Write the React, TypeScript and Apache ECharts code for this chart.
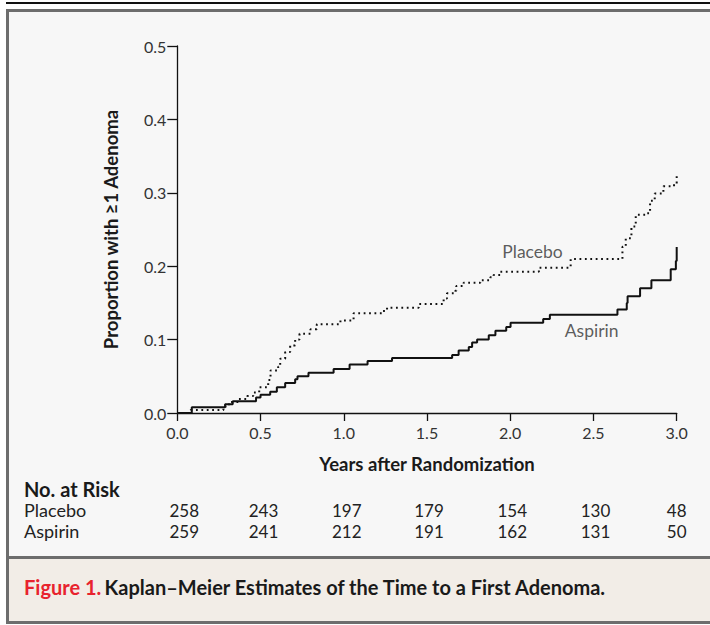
import React, { useEffect, useRef } from "react";
import * as echarts from "echarts";

const xTicks = [0, 0.5, 1.0, 1.5, 2.0, 2.5, 3.0];
const yTicks = [0, 0.1, 0.2, 0.3, 0.4, 0.5];

const aspirin: [number, number][] = [
  [0, 0], [0.087, 0.008], [0.287, 0.012], [0.333, 0.016], [0.473, 0.021], [0.5, 0.025],
  [0.558, 0.029], [0.598, 0.035], [0.648, 0.041], [0.708, 0.046], [0.722, 0.05],
  [0.788, 0.055], [0.939, 0.06], [1.035, 0.066], [1.143, 0.071], [1.29, 0.075],
  [1.651, 0.079], [1.69, 0.085], [1.751, 0.09], [1.771, 0.096], [1.801, 0.1],
  [1.871, 0.106], [1.911, 0.112], [1.976, 0.117], [2.002, 0.123], [2.198, 0.128],
  [2.238, 0.134], [2.644, 0.141], [2.7, 0.15], [2.705, 0.159], [2.78, 0.17],
  [2.848, 0.181], [2.964, 0.196], [2.995, 0.207], [3.0, 0.226],
];

const placebo: [number, number][] = [
  [0, 0], [0.08, 0.004], [0.277, 0.009], [0.31, 0.015], [0.37, 0.019], [0.42, 0.023],
  [0.456, 0.028], [0.492, 0.035], [0.546, 0.045], [0.56, 0.058], [0.606, 0.063],
  [0.618, 0.074], [0.648, 0.083], [0.678, 0.092], [0.708, 0.1], [0.734, 0.108],
  [0.8, 0.114], [0.838, 0.121], [0.98, 0.126], [1.059, 0.136], [1.236, 0.139],
  [1.26, 0.1435], [1.45, 0.1485], [1.6, 0.156], [1.62, 0.163], [1.67, 0.1666],
  [1.676, 0.173], [1.72, 0.1775], [1.82, 0.181], [1.88, 0.185], [1.9, 0.188],
  [1.94, 0.1925], [2.172, 0.198], [2.363, 0.2098], [2.674, 0.2266], [2.694, 0.238],
  [2.728, 0.254], [2.754, 0.27], [2.814, 0.272], [2.84, 0.289], [2.868, 0.299],
  [2.92, 0.309], [2.984, 0.312], [3.0, 0.323],
];

const riskTimes = [0, 0.5, 1.0, 1.5, 2.0, 2.5, 3.0];
const riskPlacebo = [258, 243, 197, 179, 154, 130, 48];
const riskAspirin = [259, 241, 212, 191, 162, 131, 50];

const seriesLabels = [
  { name: "Placebo", x: 2.134, y: 0.2207 },
  { name: "Aspirin", x: 2.489, y: 0.113 },
];

const FONT = "Lato, 'Noto Sans', sans-serif";

export default function App() {
  const ref = useRef<HTMLDivElement>(null);
  useEffect(() => {
    if (!ref.current) return;
    const chart = echarts.init(ref.current, null, { renderer: "svg" });
    const W = 710;
    const gridLeft = 177.3;
    const gridRight = 33.3;
    const gridTop = 46;
    const gridBottom = 625 - 413;
    const plotW = W - gridLeft - gridRight;
    const xPix = (t: number) => gridLeft + (t / 3) * plotW;
    const colOffset = [7, 3, 3, 2, 2, 2, 0];

    const graphics: any[] = [
      { type: "rect", z: -10, shape: { x: 6, y: 2, width: 704, height: 2 }, style: { fill: "#111" } },
      { type: "rect", z: -10, shape: { x: 6, y: 9, width: 704, height: 615 }, style: { fill: "#6d6d6d" } },
      { type: "rect", z: -9, shape: { x: 9, y: 12, width: 701, height: 544 }, style: { fill: "#f7f7f7" } },
      { type: "rect", z: -9, shape: { x: 9, y: 559, width: 701, height: 62 }, style: { fill: "#f2ede7" } },
      { type: "text", x: 24, y: 489, style: { text: "No. at Risk", font: `bold 20px ${FONT}`, fill: "#1a1a1a", verticalAlign: "middle" } },
      { type: "text", x: 24, y: 510, style: { text: "Placebo", font: `18px ${FONT}`, fill: "#222", verticalAlign: "middle" } },
      { type: "text", x: 24, y: 531, style: { text: "Aspirin", font: `18px ${FONT}`, fill: "#222", verticalAlign: "middle" } },
      {
        type: "text", x: 24, y: 587,
        style: {
          text: "{r|Figure 1.} {b|Kaplan\u2013Meier Estimates of the Time to a First Adenoma.}",
          verticalAlign: "middle",
          rich: {
            r: { font: `bold 20px ${FONT}`, fill: "#e8232e" },
            b: { font: `bold 20px ${FONT}`, fill: "#1a1a1a" },
          },
        },
      },
    ];
    riskTimes.forEach((t, i) => {
      const cx = xPix(t) + colOffset[i];
      graphics.push({ type: "text", x: cx, y: 510, style: { text: String(riskPlacebo[i]), font: `17px ${FONT}`, fill: "#222", align: "center", verticalAlign: "middle" } });
      graphics.push({ type: "text", x: cx, y: 531, style: { text: String(riskAspirin[i]), font: `17px ${FONT}`, fill: "#222", align: "center", verticalAlign: "middle" } });
    });

    chart.setOption({
      animation: false,
      backgroundColor: "#ffffff",
      grid: { left: gridLeft, right: gridRight, top: gridTop, bottom: gridBottom, containLabel: false },
      xAxis: {
        type: "value", min: 0, max: 3, interval: 0.5,
        name: "Years after Randomization", nameLocation: "middle", nameGap: 41,
        nameTextStyle: { fontFamily: FONT, fontWeight: "bold", fontSize: 18.5, color: "#1a1a1a" },
        axisLine: { show: true, lineStyle: { color: "#111", width: 1.3 } },
        axisTick: { show: true, length: 8, lineStyle: { color: "#111", width: 1.3 } },
        axisLabel: { fontFamily: FONT, fontSize: 16, color: "#333", margin: 11, formatter: (v: number) => v.toFixed(1) },
        splitLine: { show: false },
      },
      yAxis: {
        type: "value", min: 0, max: 0.5, interval: 0.1,
        name: "Proportion with \u22651 Adenoma", nameLocation: "middle", nameGap: 57, nameRotate: 90,
        nameTextStyle: { fontFamily: FONT, fontWeight: "bold", fontSize: 18.5, color: "#1a1a1a" },
        axisLine: { show: true, lineStyle: { color: "#111", width: 1.3 } },
        axisTick: { show: true, length: 10, lineStyle: { color: "#111", width: 1.3 } },
        axisLabel: { fontFamily: FONT, fontSize: 16, color: "#333", margin: 11, formatter: (v: number) => v.toFixed(1) },
        splitLine: { show: false },
      },
      graphic: graphics,
      series: [
        {
          name: "Placebo", type: "line", step: "end", data: placebo, showSymbol: false, symbol: "none",
          lineStyle: { color: "#111", width: 2, type: [1.8, 3.6], cap: "butt" },
        },
        {
          name: "Aspirin", type: "line", step: "end", data: aspirin, showSymbol: false, symbol: "none",
          lineStyle: { color: "#111", width: 2 },
        },
        {
          name: "labels", type: "scatter", symbolSize: 0,
          data: seriesLabels.map((d) => ({ value: [d.x, d.y], name: d.name })),
          label: { show: true, position: "inside", formatter: "{b}", fontFamily: FONT, fontSize: 17.5, color: "#333" },
          silent: true,
        },
      ],
    });
    return () => chart.dispose();
  }, []);
  return <div ref={ref} style={{ position: "fixed", left: 0, top: 0, width: 710, height: 625 }} />;
}
